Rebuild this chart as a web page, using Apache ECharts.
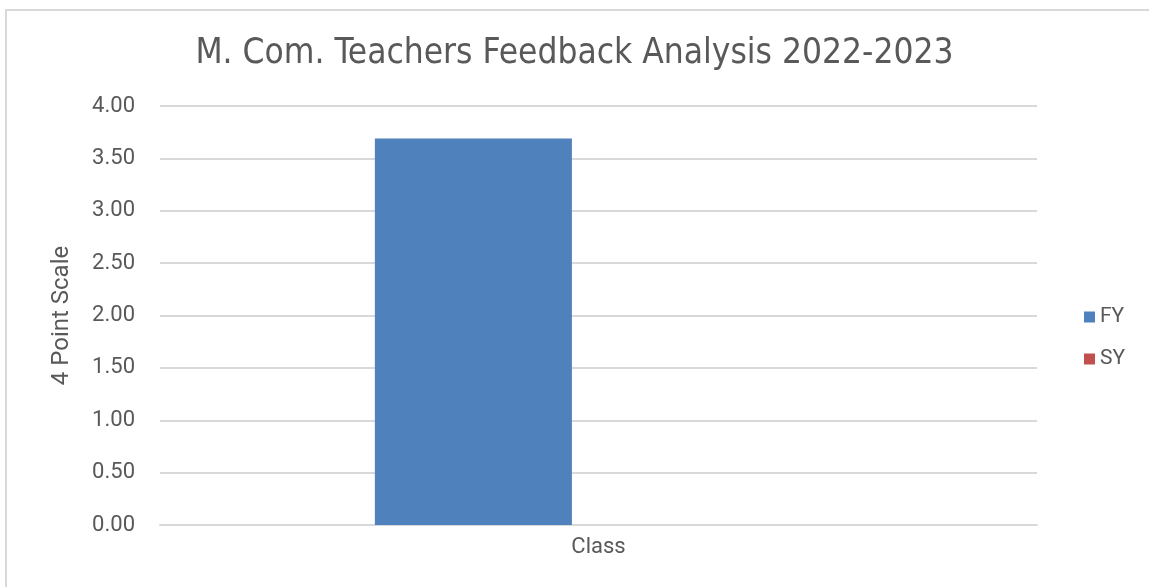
<!DOCTYPE html>
<html lang="en">
<head>
    <meta charset="UTF-8">
    <title>M. Com. Teachers Feedback Analysis</title>
    <script src="https://cdn.jsdelivr.net/npm/echarts@6/dist/echarts.min.js"></script>
    <style>
        body { margin: 0; background: #fff; }
        #frame { position: absolute; left: 5px; top: 9px; width: 1200px; height: 700px;
                 border-left: 2px solid #d9d9d9; border-top: 2px solid #d9d9d9; }
        #graph { position: absolute; left: 0; top: 0; width: 1149px; height: 587px; }
    </style>
</head>
<body>
    <div id="frame"></div>
    <div id="graph"></div>

    <script>
        var categories = ['Class'];
        var fyValues = [3.69];
        var syValues = [0];
        var seriesNames = ['FY', 'SY'];

        var textColor = '#595959';
        var myChart = echarts.init(document.getElementById('graph'));

        var option = {
            animation: false,
            title: {
                text: 'M. Com. Teachers Feedback Analysis 2022-2023',
                left: 'center',
                top: 31,
                textStyle: {
                    color: textColor,
                    fontFamily: 'DejaVu Sans Condensed',
                    fontSize: 35,
                    fontWeight: 'normal'
                }
            },
            legend: {
                data: seriesNames,
                orient: 'vertical',
                left: 1079,
                top: 301,
                itemWidth: 11,
                itemHeight: 11,
                itemGap: 20,
                icon: 'rect',
                textStyle: {
                    color: textColor,
                    fontFamily: 'Roboto',
                    fontSize: 21,
                    lineHeight: 22
                }
            },
            grid: {
                left: 160,
                right: 112,
                top: 106,
                bottom: 62
            },
            xAxis: {
                type: 'category',
                data: categories,
                axisLine: { lineStyle: { color: '#d9d9d9', width: 2 } },
                axisTick: { show: false },
                axisLabel: {
                    color: textColor,
                    fontFamily: 'Roboto',
                    fontSize: 22,
                    margin: 11
                }
            },
            yAxis: {
                type: 'value',
                min: 0,
                max: 4,
                interval: 0.5,
                name: '4 Point Scale',
                nameLocation: 'middle',
                nameGap: 86,
                nameTextStyle: {
                    color: textColor,
                    fontFamily: 'Roboto',
                    fontSize: 24
                },
                axisLine: { show: false },
                axisTick: { show: false },
                splitLine: { lineStyle: { color: '#d9d9d9', width: 2 } },
                axisLabel: {
                    color: textColor,
                    fontFamily: 'Roboto',
                    fontSize: 22,
                    margin: 25,
                    formatter: function (v) { return v.toFixed(2); }
                }
            },
            series: [
                {
                    name: 'FY',
                    type: 'bar',
                    data: fyValues,
                    itemStyle: { color: '#4f81bd' },
                    barCategoryGap: '49%',
                    barGap: '27%'
                },
                {
                    name: 'SY',
                    type: 'bar',
                    data: syValues,
                    itemStyle: { color: '#c0504d' }
                }
            ]
        };
        myChart.setOption(option);
    </script>
</body>
</html>
